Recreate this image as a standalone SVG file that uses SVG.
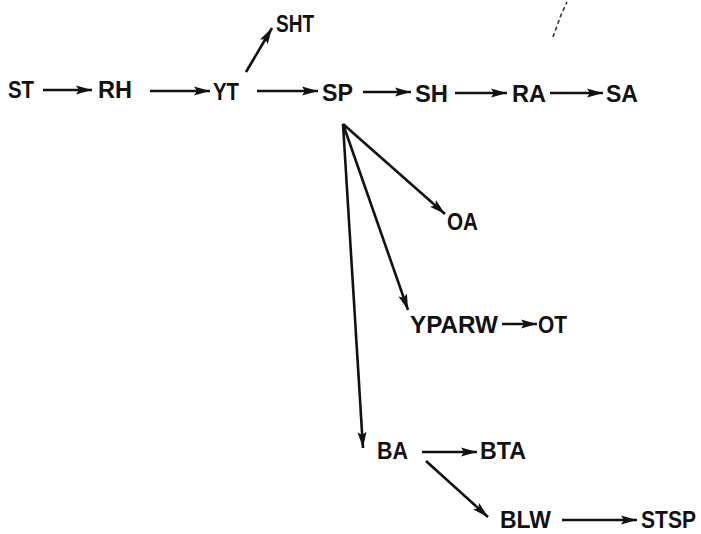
<svg xmlns="http://www.w3.org/2000/svg" width="701" height="534" viewBox="0 0 701 534">
<style>
.lbl{font-family:"Liberation Sans",Arial,sans-serif;font-weight:bold;font-size:23.5px;fill:#111;}
.c{stroke:#111;stroke-width:2.6;fill:none;marker-end:url(#ah);}
.noise{stroke:#333;stroke-width:1.6;fill:none;stroke-dasharray:4 3;}
</style>
<defs>
<marker id="ah" markerUnits="userSpaceOnUse" markerWidth="17" markerHeight="10" viewBox="0 0 17 10" refX="16" refY="5" orient="auto">
<path d="M0,0.5 L16,5 L0,9.5 L3,5 Z" fill="#111"/>
</marker>
</defs>
<rect width="701" height="534" fill="#fff"/>
<path class="noise" d="M553,37 L561,15 L567,2"/>
<g id="connectors">
<line class="c" x1="43" y1="90" x2="92" y2="90"/>
<line class="c" x1="150" y1="91" x2="210" y2="91"/>
<line class="c" x1="257" y1="91" x2="318" y2="91"/>
<line class="c" x1="246" y1="72" x2="272" y2="28"/>
<line class="c" x1="363" y1="92" x2="411" y2="92"/>
<line class="c" x1="455" y1="93" x2="507" y2="93"/>
<line class="c" x1="550" y1="93" x2="603" y2="93"/>
<line class="c" x1="343" y1="124" x2="445" y2="214"/>
<line class="c" x1="343" y1="124" x2="408" y2="310"/>
<line class="c" x1="343" y1="124" x2="363" y2="448"/>
<line class="c" x1="502" y1="324" x2="537" y2="324"/>
<line class="c" x1="422" y1="452" x2="477" y2="452"/>
<line class="c" x1="426" y1="461" x2="488" y2="517"/>
<line class="c" x1="562" y1="520" x2="637" y2="520"/>
</g>
<g id="n-ST"><text class="lbl" x="8" y="98" textLength="26" lengthAdjust="spacingAndGlyphs">ST</text></g>
<g id="n-RH"><text class="lbl" x="98" y="98" textLength="34" lengthAdjust="spacingAndGlyphs">RH</text></g>
<g id="n-YT"><text class="lbl" x="213" y="100" textLength="26" lengthAdjust="spacingAndGlyphs">YT</text></g>
<g id="n-SHT"><text class="lbl" x="276" y="32" textLength="38" lengthAdjust="spacingAndGlyphs">SHT</text></g>
<g id="n-SP"><text class="lbl" x="322" y="101" textLength="31" lengthAdjust="spacingAndGlyphs">SP</text></g>
<g id="n-SH"><text class="lbl" x="415" y="102" textLength="33" lengthAdjust="spacingAndGlyphs">SH</text></g>
<g id="n-RA"><text class="lbl" x="512" y="102" textLength="34" lengthAdjust="spacingAndGlyphs">RA</text></g>
<g id="n-SA"><text class="lbl" x="606" y="102" textLength="32" lengthAdjust="spacingAndGlyphs">SA</text></g>
<g id="n-OA"><text class="lbl" x="447" y="230" textLength="31" lengthAdjust="spacingAndGlyphs">OA</text></g>
<g id="n-YPARW"><text class="lbl" x="410" y="333" textLength="88" lengthAdjust="spacingAndGlyphs">YPARW</text></g>
<g id="n-OT"><text class="lbl" x="538" y="333" textLength="29" lengthAdjust="spacingAndGlyphs">OT</text></g>
<g id="n-BA"><text class="lbl" x="377" y="459" textLength="31" lengthAdjust="spacingAndGlyphs">BA</text></g>
<g id="n-BTA"><text class="lbl" x="480" y="459" textLength="46" lengthAdjust="spacingAndGlyphs">BTA</text></g>
<g id="n-BLW"><text class="lbl" x="500" y="528" textLength="51" lengthAdjust="spacingAndGlyphs">BLW</text></g>
<g id="n-STSP"><text class="lbl" x="641" y="528" textLength="55" lengthAdjust="spacingAndGlyphs">STSP</text></g>
</svg>
